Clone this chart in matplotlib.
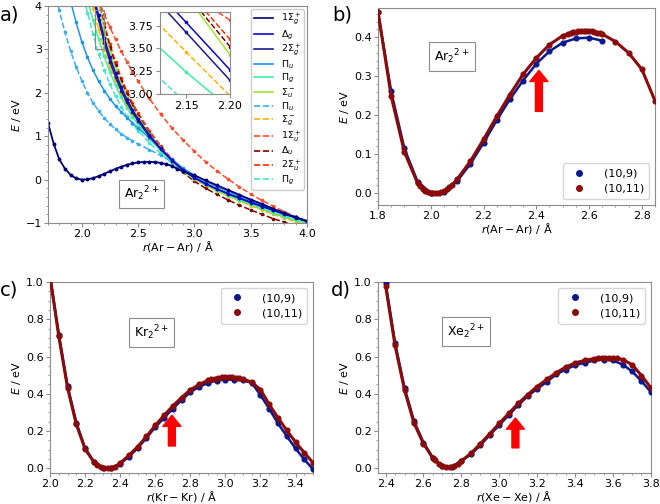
import numpy as np
import matplotlib
matplotlib.use('Agg')
import matplotlib.pyplot as plt
from matplotlib.lines import Line2D
from matplotlib.patches import Rectangle
from matplotlib.ticker import AutoMinorLocator, MultipleLocator, FormatStrFormatter

nan = np.nan

# ── panel a: Ar2^2+ ground state + excited states ───────────────────────────
R_GS = [1.70, 1.75, 1.80, 1.85, 1.90, 1.95, 2.00, 2.05, 2.10, 2.15, 2.20, 2.25,
        2.30, 2.35, 2.40, 2.45, 2.50, 2.55, 2.60, 2.65, 2.70, 2.75, 2.80, 2.85,
        2.90, 3.00, 3.10, 3.20, 3.30, 3.40, 3.50, 3.60, 3.70, 3.80, 3.90, 4.00]
E_GS = [1.31, 0.83, 0.47, 0.255, 0.11, 0.028, 0.0, 0.005, 0.034, 0.08, 0.134, 0.192,
        0.247, 0.297, 0.34, 0.373, 0.395, 0.407, 0.41, 0.403, 0.385, 0.357, 0.315, 0.245,
        0.19, 0.10, -0.02, -0.13, -0.24, -0.35, -0.46, -0.56, -0.67, -0.77, -0.87, -0.96]

R_EX = [1.75, 1.80, 1.85, 1.90, 1.95, 2.00, 2.05, 2.10, 2.15, 2.20, 2.25, 2.30,
        2.35, 2.40, 2.45, 2.50, 2.60, 2.70, 2.80, 2.90, 3.00, 3.10, 3.20, 3.30,
        3.40, 3.50, 3.60, 3.70, 3.80, 3.90, 4.00]
E_DG = [nan, nan, nan, nan, nan, nan, 4.85, 4.30, 3.785, 3.265, 2.82, 2.45,
        2.13, 1.85, 1.61, 1.40, 1.03, 0.72, 0.45, 0.22, 0.04, -0.10, -0.22, -0.33,
        -0.43, -0.53, -0.62, -0.71, -0.80, -0.88, -0.96]
E_2SGP = [nan, nan, nan, nan, nan, nan, 4.75, 4.20, 3.675, 3.15, 2.72, 2.36,
          2.05, 1.78, 1.55, 1.35, 1.00, 0.70, 0.44, 0.22, 0.05, -0.09, -0.21, -0.32,
          -0.42, -0.52, -0.61, -0.70, -0.79, -0.87, -0.95]
E_PIU_S = [nan, nan, 4.70, 4.12, 3.62, 3.18, 2.82, 2.52, 2.27, 2.05, 1.86, 1.70,
           1.56, 1.43, 1.31, 1.19, 0.96, 0.72, 0.47, 0.26, 0.10, -0.04, -0.16, -0.27,
           -0.38, -0.49, -0.59, -0.69, -0.78, -0.87, -0.96]
E_PIG_S = [nan, nan, nan, nan, nan, 4.70, 4.15, 3.68, 3.24, 2.84, 2.48, 2.17,
           1.90, 1.66, 1.45, 1.27, 0.95, 0.67, 0.42, 0.20, 0.03, -0.11, -0.23, -0.35,
           -0.46, -0.56, -0.66, -0.76, -0.85, -0.93, -1.01]
E_SUM = [nan, nan, nan, nan, nan, nan, nan, 4.70, 4.08, 3.43, 2.95, 2.55,
         2.20, 1.91, 1.65, 1.43, 1.05, 0.72, 0.44, 0.20, 0.01, -0.13, -0.26, -0.37,
         -0.48, -0.58, -0.68, -0.77, -0.86, -0.94, -1.02]
E_PIU_D = [4.50, 3.90, 3.40, 2.97, 2.60, 2.28, 2.00, 1.77, 1.58, 1.42, 1.28, 1.16,
           1.06, 0.97, 0.89, 0.82, 0.69, 0.56, 0.41, 0.25, 0.10, -0.03, -0.15, -0.26,
           -0.37, -0.48, -0.58, -0.68, -0.77, -0.86, -0.95]
E_SGM = [nan, nan, nan, nan, nan, 5.05, 4.48, 3.95, 3.46, 2.98, 2.60, 2.27,
         1.98, 1.73, 1.51, 1.31, 0.97, 0.68, 0.42, 0.19, 0.01, -0.13, -0.26, -0.38,
         -0.49, -0.60, -0.70, -0.80, -0.89, -0.97, -1.05]
E_1SUP = [nan, nan, nan, nan, nan, nan, nan, 4.48, 4.13, 3.81, 3.51, 3.23,
          2.96, 2.72, 2.48, 2.27, 1.87, 1.51, 1.19, 0.91, 0.65, 0.41, 0.20, 0.01,
          -0.17, -0.33, -0.48, -0.61, -0.74, -0.85, -0.96]
E_DU = [nan, nan, nan, nan, nan, nan, nan, 4.70, 4.10, 3.52, 3.05, 2.64,
        2.28, 1.97, 1.70, 1.47, 1.07, 0.72, 0.42, 0.17, -0.04, -0.20, -0.34, -0.47,
        -0.59, -0.70, -0.80, -0.90, -0.98, -1.06, -1.13]
E_2SUP = [nan, nan, nan, nan, nan, nan, nan, 4.72, 4.15, 3.60, 3.12, 2.71,
          2.35, 2.04, 1.77, 1.54, 1.13, 0.78, 0.48, 0.23, 0.03, -0.12, -0.25, -0.37,
          -0.48, -0.58, -0.68, -0.77, -0.86, -0.94, -1.02]
E_PIG_D = [nan, nan, nan, nan, 5.00, 4.40, 3.85, 3.35, 2.90, 2.52, 2.20, 1.92,
           1.68, 1.47, 1.29, 1.13, 0.85, 0.60, 0.37, 0.17, 0.01, -0.12, -0.24, -0.35,
           -0.46, -0.56, -0.66, -0.75, -0.84, -0.92, -1.00]

# label, values, colour, linestyle  (legend order)
STATES = [
    (r'$1\Sigma_g^+$', None,    '#00007a', '-'),
    (r'$\Delta_g$',    E_DG,    '#0a0ad0', '-'),
    (r'$2\Sigma_g^+$', E_2SGP,  '#1c1c8a', '-'),
    (r'$\Pi_u$',       E_PIU_S, '#1e96ee', '-'),
    (r'$\Pi_g$',       E_PIG_S, '#3ef0a0', '-'),
    (r'$\Sigma_u^-$',  E_SUM,   '#a2e632', '-'),
    (r'$\Pi_u$',       E_PIU_D, '#3aaef2', '--'),
    (r'$\Sigma_g^-$',  E_SGM,   '#ffb400', '--'),
    (r'$1\Sigma_u^+$', E_1SUP,  '#ff4a2a', '--'),
    (r'$\Delta_u$',    E_DU,    '#800000', '--'),
    (r'$2\Sigma_u^+$', E_2SUP,  '#ff2a00', '--'),
    (r'$\Pi_g$',       E_PIG_D, '#40e8c8', '--'),
]

# ── panels b-d: (10,9) vs (10,11) ground-state curves ───────────────────────
R_AR_B = [1.80, 1.85, 1.90, 1.95, 2.00, 2.05, 2.10, 2.15, 2.20, 2.25, 2.30, 2.35,
          2.40, 2.45, 2.50, 2.55, 2.60, 2.65]
E_AR_B = [0.464, 0.261, 0.115, 0.030, 0.001, 0.004, 0.031, 0.075, 0.129, 0.187, 0.241, 0.289,
          0.332, 0.364, 0.386, 0.397, 0.399, 0.391]
R_AR_R = [1.80, 1.85, 1.90, 1.95, 1.96, 1.97, 1.98, 1.99, 2.00, 2.01, 2.02, 2.03,
          2.04, 2.05, 2.06, 2.07, 2.08, 2.10, 2.15, 2.20, 2.25, 2.30, 2.35, 2.40,
          2.45, 2.50, 2.52, 2.53, 2.54, 2.55, 2.56, 2.57, 2.58, 2.59, 2.60, 2.61,
          2.62, 2.63, 2.64, 2.65, 2.70, 2.75, 2.80, 2.85]
E_AR_R = [0.466, 0.249, 0.106, 0.026, 0.018, 0.011, 0.006, 0.002, 0.0, 0.0, 0.0, 0.001,
          0.003, 0.006, 0.010, 0.015, 0.021, 0.036, 0.082, 0.138, 0.197, 0.253, 0.305, 0.347,
          0.381, 0.404, 0.409, 0.411, 0.413, 0.414, 0.415, 0.416, 0.416, 0.416, 0.416, 0.415,
          0.414, 0.412, 0.410, 0.408, 0.389, 0.360, 0.318, 0.237]

R_KR_B = [2.00, 2.05, 2.10, 2.15, 2.20, 2.25, 2.30, 2.35, 2.40, 2.45, 2.50, 2.55,
          2.60, 2.65, 2.70, 2.75, 2.80, 2.85, 2.90, 2.95, 3.00, 3.05, 3.10, 3.15,
          3.20, 3.25, 3.30, 3.35, 3.40, 3.45, 3.50]
E_KR_B = [1.03, 0.718, 0.441, 0.245, 0.107, 0.036, 0.004, 0.002, 0.025, 0.062, 0.109, 0.163,
          0.221, 0.270, 0.320, 0.366, 0.409, 0.437, 0.458, 0.471, 0.476, 0.476, 0.472, 0.459,
          0.393, 0.320, 0.241, 0.173, 0.107, 0.048, -0.005]
R_KR_R = [2.00, 2.05, 2.10, 2.15, 2.20, 2.25, 2.27, 2.29, 2.31, 2.33, 2.35, 2.37,
          2.40, 2.45, 2.50, 2.55, 2.60, 2.65, 2.70, 2.75, 2.80, 2.85, 2.90, 2.92,
          2.94, 2.96, 2.98, 3.00, 3.02, 3.04, 3.06, 3.08, 3.10, 3.15, 3.20, 3.25,
          3.30, 3.35, 3.40, 3.45, 3.50]
E_KR_R = [1.03, 0.709, 0.432, 0.236, 0.104, 0.034, 0.018, 0.007, 0.002, 0.0, 0.003, 0.009,
          0.028, 0.070, 0.116, 0.171, 0.230, 0.284, 0.334, 0.380, 0.421, 0.450, 0.472, 0.477,
          0.482, 0.486, 0.488, 0.489, 0.489, 0.488, 0.486, 0.483, 0.480, 0.462, 0.423, 0.343,
          0.271, 0.204, 0.141, 0.084, 0.030]

R_XE_B = [2.40, 2.45, 2.50, 2.55, 2.60, 2.65, 2.70, 2.75, 2.80, 2.85, 2.90, 2.95,
          3.00, 3.05, 3.10, 3.15, 3.20, 3.25, 3.30, 3.35, 3.40, 3.45, 3.50, 3.55,
          3.60, 3.65, 3.70, 3.75, 3.80]
E_XE_B = [0.995, 0.673, 0.432, 0.254, 0.138, 0.057, 0.012, 0.009, 0.040, 0.075, 0.123, 0.179,
          0.232, 0.286, 0.339, 0.388, 0.427, 0.464, 0.504, 0.530, 0.554, 0.566, 0.579, 0.584,
          0.579, 0.557, 0.521, 0.468, 0.409]
R_XE_R = [2.40, 2.45, 2.50, 2.55, 2.60, 2.65, 2.66, 2.68, 2.70, 2.72, 2.74, 2.76,
          2.78, 2.80, 2.85, 2.90, 2.95, 3.00, 3.05, 3.10, 3.15, 3.20, 3.25, 3.30,
          3.35, 3.40, 3.45, 3.50, 3.52, 3.54, 3.56, 3.58, 3.60, 3.62, 3.65, 3.70,
          3.75, 3.80]
E_XE_R = [0.980, 0.660, 0.420, 0.243, 0.132, 0.054, 0.043, 0.024, 0.012, 0.006, 0.006, 0.012,
          0.024, 0.040, 0.080, 0.132, 0.186, 0.241, 0.295, 0.348, 0.396, 0.439, 0.477, 0.513,
          0.543, 0.566, 0.579, 0.589, 0.591, 0.593, 0.594, 0.594, 0.593, 0.591, 0.584, 0.557,
          0.498, 0.432]

BLUE = '#0a1890'
DRED = '#8b0a0a'
GREY = '#8c8c8c'


def style_axes(ax, labelsize=8):
    for sp in ax.spines.values():
        sp.set_color(GREY)
    ax.tick_params(which='both', color=GREY, labelsize=labelsize, pad=1.5)
    ax.tick_params(which='major', length=3)
    ax.tick_params(which='minor', length=1.6)
    ax.xaxis.set_minor_locator(AutoMinorLocator())
    ax.yaxis.set_minor_locator(AutoMinorLocator())


def mol_box(ax, x, y, text):
    ax.text(x, y, text, fontsize=9, ha='center', va='center',
            bbox=dict(boxstyle='square,pad=0.4', fc='white', ec=GREY, lw=0.8))


def up_arrow(ax, x, y0, y1):
    ax.annotate('', xy=(x, y1), xytext=(x, y0),
                arrowprops=dict(facecolor='red', edgecolor='red', width=5,
                                headwidth=13, headlength=8, shrink=0))


def pes_panel(ax, rb, eb, rr, er, atom, xlim, ylim, xstep, ystep, loc):
    ax.plot(rb, eb, '-o', color=BLUE, lw=1.8, ms=3.4, zorder=3)
    ax.plot(rr, er, '-o', color=DRED, lw=2.2, ms=3.4, zorder=4)
    ax.set_xlim(*xlim)
    ax.set_ylim(*ylim)
    ax.xaxis.set_major_locator(MultipleLocator(xstep))
    ax.yaxis.set_major_locator(MultipleLocator(ystep))
    style_axes(ax)
    ax.set_xlabel(r'$r(\mathrm{%s-%s})$ / Å' % (atom, atom), fontsize=8, labelpad=0)
    ax.set_ylabel(r'$E$ / eV', fontsize=8, labelpad=2)
    handles = [Line2D([], [], ls='none', marker='o', ms=4, color=BLUE),
               Line2D([], [], ls='none', marker='o', ms=4, color=DRED)]
    ax.legend(handles, ['(10,9)', '(10,11)'], loc=loc, fontsize=8,
              handletextpad=1.2, borderpad=0.5, labelspacing=0.45)


fig = plt.figure(figsize=(6.6, 5.04), dpi=100)

# ── a) ──────────────────────────────────────────────────────────────────────
ax_a = fig.add_axes([0.0727, 0.5575, 0.3924, 0.4306])
axins = fig.add_axes([0.2424, 0.8135, 0.1061, 0.1627])
for target in (ax_a, axins):
    for label, vals, col, ls in STATES[::-1]:
        if vals is None:
            continue
        target.plot(R_EX, vals, ls=ls, color=col, lw=1.1, marker='o', ms=1.6)
    target.plot(R_GS, E_GS, '-', color=STATES[0][2], lw=1.3, marker='o', ms=1.8)

ax_a.set_xlim(1.7, 4.0)
ax_a.set_ylim(-1, 4)
ax_a.xaxis.set_major_locator(MultipleLocator(0.5))
ax_a.yaxis.set_major_locator(MultipleLocator(1))
style_axes(ax_a, 8)
ax_a.set_xlabel(r'$r(\mathrm{Ar-Ar})$ / Å', fontsize=8, labelpad=0)
ax_a.set_ylabel(r'$E$ / eV', fontsize=8, labelpad=2)
ax_a.add_patch(Rectangle((2.12, 3.0), 0.08, 0.9, fill=False, ec=GREY, lw=0.8, zorder=5))
mol_box(ax_a, 2.53, -0.33, r'Ar$_2$$^{2+}$')

leg_handles = [Line2D([], [], color=c, ls=s, lw=1.2) for _, _, c, s in STATES]
ax_a.legend(leg_handles, [s[0] for s in STATES], loc='upper right', fontsize=6.8,
            labelspacing=0.1, handlelength=2.0, handletextpad=0.8,
            borderpad=0.35, borderaxespad=0.3, framealpha=1)

axins.set_xlim(2.12, 2.20)
axins.set_ylim(3.0, 3.9)
axins.set_xticks([2.15, 2.20])
axins.set_yticks([3.0, 3.25, 3.5, 3.75])
axins.xaxis.set_major_formatter(FormatStrFormatter('%.2f'))
axins.yaxis.set_major_formatter(FormatStrFormatter('%.2f'))
for sp in axins.spines.values():
    sp.set_color(GREY)
axins.tick_params(color=GREY, labelsize=8, length=3, pad=2)

# ── b) ──────────────────────────────────────────────────────────────────────
ax_b = fig.add_axes([0.5727, 0.5933, 0.4197, 0.3908])
pes_panel(ax_b, R_AR_B, E_AR_B, R_AR_R, E_AR_R, 'Ar', (1.8, 2.85), (-0.03, 0.475),
          0.2, 0.1, 'lower right')
mol_box(ax_b, 2.08, 0.35, r'Ar$_2$$^{2+}$')
up_arrow(ax_b, 2.41, 0.21, 0.315)

# ── c) ──────────────────────────────────────────────────────────────────────
ax_c = fig.add_axes([0.0758, 0.0615, 0.3985, 0.379])
pes_panel(ax_c, R_KR_B, E_KR_B, R_KR_R, E_KR_R, 'Kr', (2.0, 3.5), (-0.025, 1.0),
          0.2, 0.2, 'upper right')
mol_box(ax_c, 2.58, 0.73, r'Kr$_2$$^{2+}$')
up_arrow(ax_c, 2.695, 0.12, 0.285)

# ── d) ──────────────────────────────────────────────────────────────────────
ax_d = fig.add_axes([0.5727, 0.0615, 0.4136, 0.379])
pes_panel(ax_d, R_XE_B, E_XE_B, R_XE_R, E_XE_R, 'Xe', (2.36, 3.8), (-0.025, 1.0),
          0.2, 0.2, 'upper right')
mol_box(ax_d, 2.825, 0.735, r'Xe$_2$$^{2+}$')
up_arrow(ax_d, 3.085, 0.11, 0.27)

for x, y, s in [(0.0, 0.97, 'a)'), (0.503, 0.97, 'b)'), (0.0, 0.425, 'c)'), (0.501, 0.425, 'd)')]:
    fig.text(x, y, s, fontsize=14, ha='left', va='center')

fig.savefig('out.png', dpi=100)
